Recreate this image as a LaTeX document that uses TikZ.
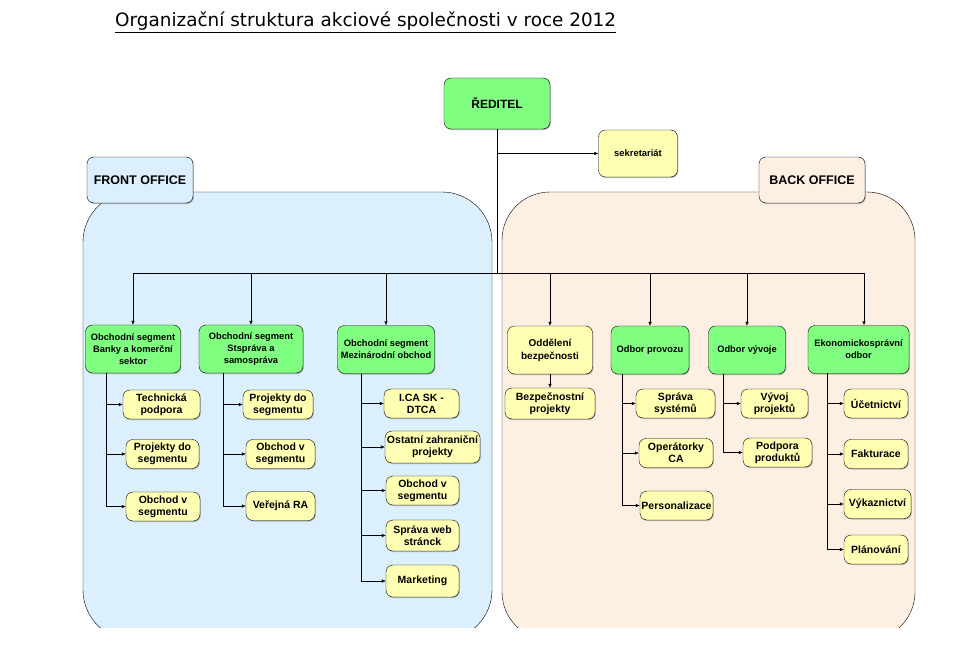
\documentclass[tikz,border=0pt]{standalone}
\usepackage{fontspec}
\setmainfont{Liberation Sans}
\newfontfamily\titlefont{DejaVu Sans}
\usetikzlibrary{arrows.meta,shadows}
\definecolor{headgreen}{HTML}{80FF80}
\definecolor{leafyellow}{HTML}{FFFFB3}
\definecolor{frontblue}{HTML}{DBEFFC}
\definecolor{backpeach}{HTML}{FEEFE3}
\tikzset{
	box/.style={draw, rounded corners=7pt, align=center, inner sep=1pt,
		drop shadow={shadow xshift=0.8pt, shadow yshift=-1pt, fill=black!55}},
	head/.style={box, fill=headgreen, minimum height=48pt, font=\bfseries\fontsize{9.3}{12}\selectfont},
	leaf/.style={box, fill=leafyellow, minimum height=29pt, font=\bfseries\fontsize{10.5}{12}\selectfont},
	office/.style={box, minimum width=106pt, minimum height=46pt, font=\bfseries\fontsize{12.5}{14}\selectfont},
	link/.style={-{Latex[length=4pt,width=3.5pt]}},
}
\begin{document}
\begin{tikzpicture}[x=1pt,y=-1pt]
	\useasboundingbox (0,0) rectangle (968,658);
	\node[anchor=base west, inner sep=0pt, font=\titlefont\fontsize{18.4}{22}\selectfont] (title) at (115,27)
		{\underline{Organizační struktura akciové společnosti v roce 2012}};

	% the two offices, cut at the page edge
	\begin{scope}
		\clip (0,0) rectangle (968,627);
		\filldraw[fill=frontblue, rounded corners=50pt] (83,192) rectangle (492,640);
		\filldraw[fill=backpeach, rounded corners=48pt] (502,192) rectangle (915,640);
	\end{scope}
	\node[office, fill=frontblue] (front) at (140,180) {FRONT OFFICE};
	\node[office, fill=backpeach] (back) at (812,180) {BACK OFFICE};

	\node[head, minimum width=106pt, minimum height=51pt, font=\bfseries\fontsize{12}{14}\selectfont] (director) at (497,103.5) {ŘEDITEL};
	\node[leaf, minimum width=79pt, minimum height=47pt, font=\bfseries\fontsize{9.4}{11}\selectfont] (secretary) at (638,153.5) {sekretariát};
	\coordinate (bus left) at (133,273);
	\coordinate (bus right) at (864,273);
	\draw (director.south) -- (director.south |- bus left);
	\draw[link] (director.south |- secretary.west) -- (secretary.west);
	\draw (bus left) -- (bus right);

	\node[head, minimum width=95pt] (head 1) at (133,349) {Obchodní segment\\Banky a komerční\\sektor};
	\node[head, minimum width=104pt] (head 2) at (251,349) {Obchodní segment\\Stspráva a\\samospráva};
	\node[head, minimum width=97pt] (head 3) at (386,349.5) {Obchodní segment\\Mezinárodní obchod};
	\node[head, fill=leafyellow, minimum width=85pt, font=\bfseries\fontsize{10}{13}\selectfont] (head 4) at (550,350) {Oddělení\\bezpečnosti};
	\node[head, minimum width=78pt] (head 5) at (650,350) {Odbor provozu};
	\node[head, minimum width=77pt] (head 6) at (747,350) {Odbor vývoje};
	\node[head, minimum width=101pt] (head 7) at (858.5,349.5) {Ekonomickosprávní\\odbor};
	\foreach \i/\x in {1/133,2/251,3/386,4/550,5/650,6/747,7/864} {
		\coordinate (drop \i) at (\x,273);
		\draw[link] (drop \i) -- (drop \i |- head \i.north);
	}

	% front office
	\node[leaf, minimum width=77pt] (leaf 1-1) at (161.5,404.5) {Technická\\podpora};
	\node[leaf, minimum width=73pt] (leaf 1-2) at (162.5,454) {Projekty do\\segmentu};
	\node[leaf, minimum width=74pt] (leaf 1-3) at (163,506.5) {Obchod v\\segmentu};
	\node[leaf, minimum width=70pt] (leaf 2-1) at (278,404.5) {Projekty do\\segmentu};
	\node[leaf, minimum width=69pt] (leaf 2-2) at (280.5,454) {Obchod v\\segmentu};
	\node[leaf, minimum width=69pt] (leaf 2-3) at (280.5,506) {Veřejná RA};
	\node[leaf, minimum width=75pt] (leaf 3-1) at (421.5,403.5) {I.CA SK -\\DTCA};
	\node[leaf, minimum width=95pt, minimum height=32pt] (leaf 3-2) at (432.5,447) {Ostatní zahraniční\\projekty};
	\node[leaf, minimum width=73pt] (leaf 3-3) at (422.5,490.5) {Obchod v\\segmentu};
	\node[leaf, minimum width=73pt, minimum height=31pt] (leaf 3-4) at (422.5,535.5) {Správa web\\stránck};
	\node[leaf, minimum width=73pt, minimum height=32pt] (leaf 3-5) at (422.5,581) {Marketing};

	\coordinate (spine 1) at (106,373);
	\coordinate (spine 2) at (223,373);
	\coordinate (spine 3) at (361,374);
	\foreach \c in {1-1,1-2} \draw[link] (spine 1 |- leaf \c.west) -- (leaf \c.west);
	\draw[link] (spine 1) |- (leaf 1-3.west);
	\foreach \c in {2-1,2-2} \draw[link] (spine 2 |- leaf \c.west) -- (leaf \c.west);
	\draw[link] (spine 2) |- (leaf 2-3.west);
	\foreach \c in {3-1,3-2,3-3,3-4} \draw[link] (spine 3 |- leaf \c.west) -- (leaf \c.west);
	\draw[link] (spine 3) |- (leaf 3-5.west);

	% back office
	\node[leaf, minimum width=90pt, minimum height=31pt] (leaf 4-1) at (550,403.5) {Bezpečnostní\\projekty};
	\node[leaf, minimum width=79pt] (leaf 5-1) at (675.5,403.5) {Správa\\systémů};
	\node[leaf, minimum width=74pt] (leaf 5-2) at (676,453) {Operátorky\\CA};
	\node[leaf, minimum width=73pt] (leaf 5-3) at (676.5,505.5) {Personalizace};
	\node[leaf, minimum width=67pt] (leaf 6-1) at (774.5,403.5) {Vývoj\\projektů};
	\node[leaf, minimum width=69pt] (leaf 6-2) at (777.5,452.5) {Podpora\\produktů};
	\node[leaf, minimum width=64pt] (leaf 7-1) at (876,403.5) {Účetnictví};
	\node[leaf, minimum width=64pt] (leaf 7-2) at (876,454) {Fakturace};
	\node[leaf, minimum width=67pt] (leaf 7-3) at (877.5,504) {Výkaznictví};
	\node[leaf, minimum width=64pt] (leaf 7-4) at (876,549.5) {Plánování};

	\draw[link] (head 4.south) -- (leaf 4-1.north);
	\coordinate (spine 5) at (622,374);
	\coordinate (spine 6) at (723,374);
	\coordinate (spine 7) at (827,373);
	\foreach \c in {5-1,5-2} \draw[link] (spine 5 |- leaf \c.west) -- (leaf \c.west);
	\draw[link] (spine 5) |- (leaf 5-3.west);
	\draw[link] (spine 6 |- leaf 6-1.west) -- (leaf 6-1.west);
	\draw[link] (spine 6) |- (leaf 6-2.west);
	\foreach \c in {7-1,7-2,7-3} \draw[link] (spine 7 |- leaf \c.west) -- (leaf \c.west);
	\draw[link] (spine 7) |- (leaf 7-4.west);
\end{tikzpicture}
\end{document}
